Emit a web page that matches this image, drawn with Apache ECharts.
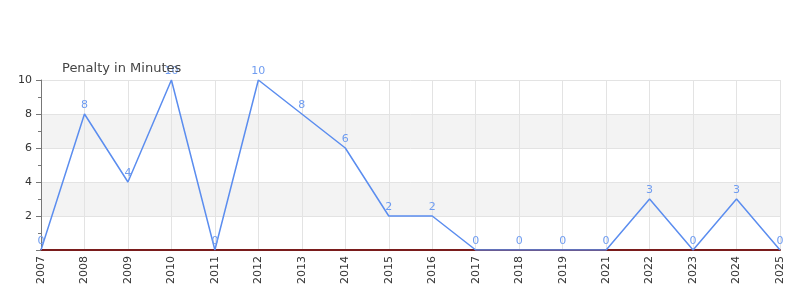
<!DOCTYPE html>
<html><head><meta charset="utf-8">
<script src="https://cdn.jsdelivr.net/npm/echarts@6/dist/echarts.min.js"></script>
<style>html,body{margin:0;padding:0;background:#fff}#c{width:800px;height:300px}</style>
</head><body><div id="c"></div>
<script>
const categories = ['2007','2008','2009','2010','2011','2012','2013','2014','2015','2016','2017','2018','2019','2021','2022','2023','2024','2025'];
const penaltyMinutes = [0,8,4,10,0,10,8,6,2,2,0,0,0,0,3,0,3,0];
const yTicks = [2,4,6,8,10];
const chart = echarts.init(document.getElementById('c'), null, {renderer:'canvas'});
chart.setOption({
  animation:false,
  title:{text:'Penalty in Minutes', left:57, top:57, textStyle:{fontSize:13, fontWeight:'normal', color:'#444', fontFamily:'DejaVu Sans'}},
  grid:{left:41, right:20, top:80, bottom:50, containLabel:false},
  xAxis:{type:'category', data:categories, boundaryGap:false,
    axisLine:{lineStyle:{color:'#7a1c1c', width:2}},
    axisTick:{show:false},
    axisLabel:{rotate:90, color:'#333', fontSize:11, fontFamily:'DejaVu Sans', margin:6},
    splitLine:{show:true, lineStyle:{color:'#e3e3e3'}}},
  yAxis:{type:'value', min:0, max:10, interval:2,
    axisLine:{show:true, lineStyle:{color:'#777'}},
    axisTick:{show:true, length:5, lineStyle:{color:'#777'}},
    minorTick:{show:true, splitNumber:2, length:3, lineStyle:{color:'#777'}},
    axisLabel:{color:'#333', fontSize:11, fontFamily:'DejaVu Sans', margin:9,
      formatter:v=> yTicks.includes(v)?String(v):''},
    splitLine:{show:true, lineStyle:{color:'#e3e3e3'}},
    splitArea:{show:true, areaStyle:{color:['#ffffff','#f3f3f3']}}},
  series:[{type:'line', data:penaltyMinutes, symbol:'circle', symbolSize:1, showSymbol:true, z:5,
    itemStyle:{color:'rgba(91,141,239,0)', borderWidth:0},
    lineStyle:{color:'#5b8def', width:1.5},
    label:{show:true, position:'top', distance:3, color:'#6f9cf0', fontSize:11, fontFamily:'DejaVu Sans'}}]
});
</script></body></html>
